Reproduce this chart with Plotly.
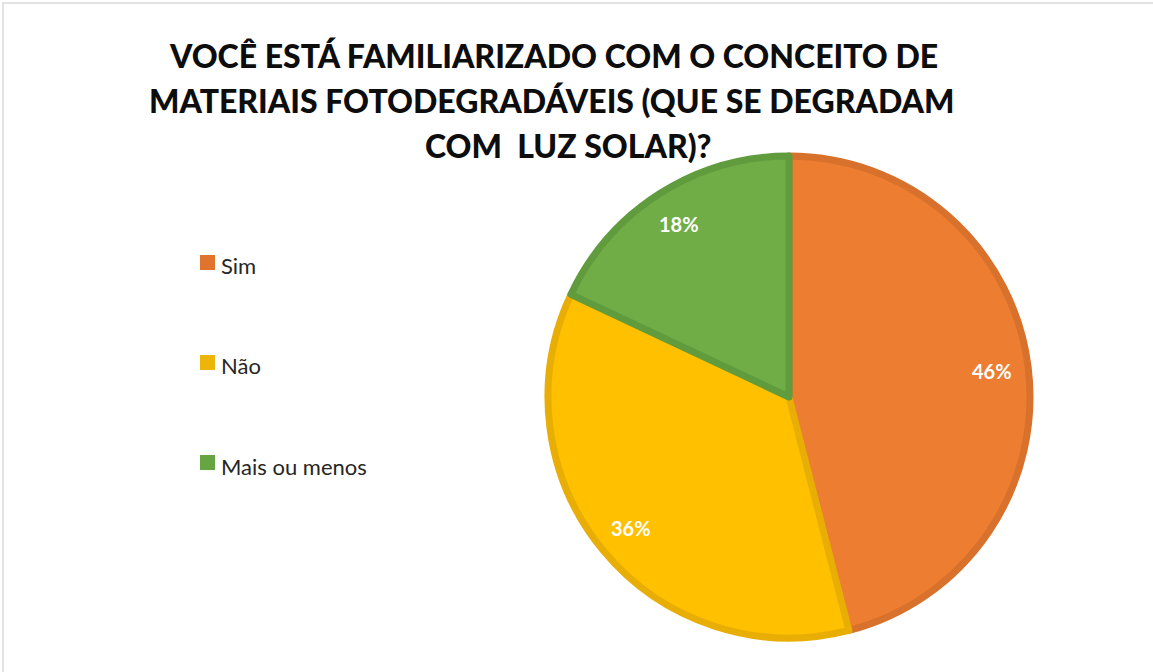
import math
import plotly.graph_objects as go

W, H = 1153, 672

# ---- data ----
categories = ["Sim", "Não", "Mais ou menos"]
values = [46, 36, 18]
fill_colors = ["#ED7D31", "#FFC000", "#70AD47"]
edge_colors = ["#D8712B", "#E8AE05", "#609C3D"]
legend_colors = ["#E0732E", "#EDB40A", "#67A442"]
title_lines = [
    "VOCÊ ESTÁ FAMILIARIZADO COM O CONCEITO DE",
    "MATERIAIS FOTODEGRADÁVEIS (QUE SE DEGRADAM",
    "COM  LUZ SOLAR)?",
]

def fx(px):
    return px / W

def fy(py):
    return 1 - py / H

# pie geometry (pixels)
CX, CY, R = 789, 397, 241
LABEL_R = 0.85 * R

fig = go.Figure()
fig.add_trace(go.Pie(
    labels=categories,
    values=values,
    sort=False,
    direction="clockwise",
    rotation=0,
    marker=dict(colors=fill_colors, line=dict(color=edge_colors, width=7)),
    textinfo="none",
    domain=dict(x=[fx(CX - R), fx(CX + R)], y=[fy(CY + R), fy(CY - R)]),
    showlegend=False,
    hoverinfo="label+percent",
))

shapes = [dict(type="rect", xref="paper", yref="paper",
               x0=fx(3), x1=fx(1170), y0=fy(690), y1=fy(3),
               line=dict(color="#D9D9D9", width=1.5), fillcolor="rgba(0,0,0,0)",
               layer="below")]
annotations = []

# percentage labels positioned along each slice's mid-angle
total = sum(values)
cum = 0
for v in values:
    mid = (cum + v / 2) / total * 2 * math.pi
    cum += v
    px = CX + LABEL_R * math.sin(mid)
    py = CY - LABEL_R * math.cos(mid)
    annotations.append(dict(text=f"{round(100 * v / total)}%", x=fx(px), y=fy(py),
                            xref="paper", yref="paper", xanchor="center", yanchor="middle",
                            showarrow=False,
                            font=dict(family="Lato", size=20, color="white", weight="bold")))

title_y = [55, 100, 145]
title_x = [553, 551, 568]
for line, yy, xx in zip(title_lines, title_y, title_x):
    annotations.append(dict(text=line, x=fx(xx), y=fy(yy), xref="paper", yref="paper",
                            xanchor="center", yanchor="middle", showarrow=False,
                            font=dict(family="Lato", size=32, color="#0D0D0D", weight=900)))

legend_y = [263, 363, 463]
for cat, col, yy in zip(categories, legend_colors, legend_y):
    shapes.append(dict(type="rect", xref="paper", yref="paper",
                       x0=fx(200), x1=fx(215), y0=fy(yy + 7), y1=fy(yy - 8),
                       fillcolor=col, line=dict(width=0)))
    annotations.append(dict(text=cat, x=fx(219), y=fy(yy + 3), xref="paper", yref="paper",
                            xanchor="left", yanchor="middle", showarrow=False,
                            font=dict(family="Lato", size=22, color="#262626")))

fig.update_layout(
    width=W, height=H,
    margin=dict(l=0, r=0, t=0, b=0),
    paper_bgcolor="white",
    plot_bgcolor="white",
    shapes=shapes,
    annotations=annotations,
)

fig.write_html("out.html", config={"displayModeBar": False},
               post_script="document.body.style.margin='0';")
